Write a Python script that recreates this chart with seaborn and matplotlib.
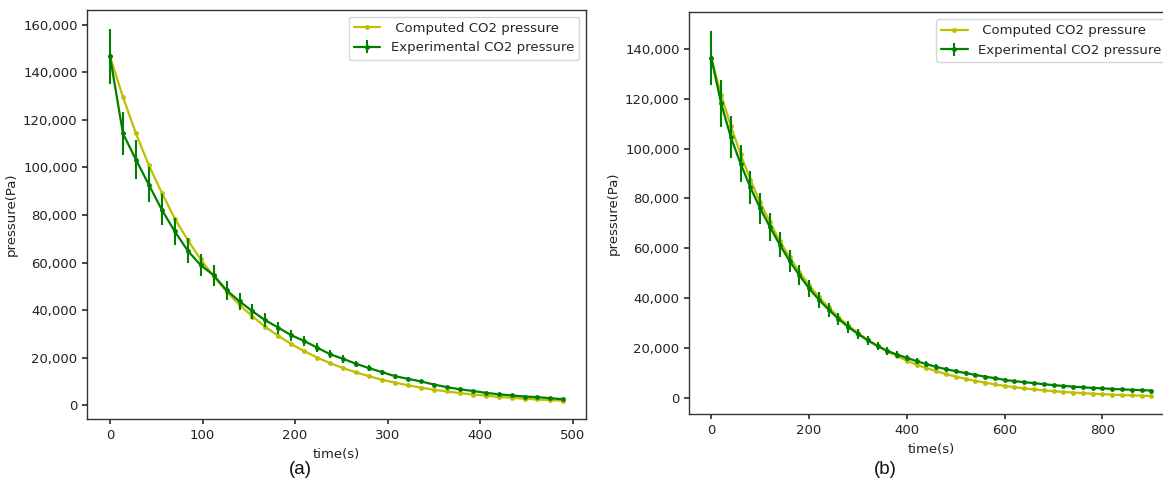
import numpy as np
import pandas as pd
import matplotlib
matplotlib.use("Agg")
import matplotlib.pyplot as plt
from matplotlib.ticker import FuncFormatter
import seaborn as sns

# ---------------- data (pressure in kPa, converted to Pa below) ----------------
time_a = [0, 14, 28, 42, 56, 70, 84, 98, 112, 126, 140, 154, 168, 182, 196, 210,
          224, 238, 252, 266, 280, 294, 308, 322, 336, 350, 364, 378, 392, 406,
          420, 434, 448, 462, 476, 490]
computed_a = [146.7, 129.6, 114.3, 100.9, 89.3, 78.5, 69.5, 61.3, 54.2, 47.8, 42.2,
              37.3, 32.9, 29.1, 25.7, 22.7, 20.0, 17.7, 15.6, 13.8, 12.2, 10.7, 9.5,
              8.4, 7.4, 6.5, 5.8, 5.1, 4.5, 4.0, 3.5, 3.1, 2.7, 2.4, 2.1, 1.9]
experimental_a = [146.7, 114.3, 103.3, 92.7, 82.2, 73.1, 65.0, 58.9, 54.7, 48.3, 43.7,
                  39.5, 35.7, 32.6, 29.4, 27.0, 24.2, 21.4, 19.5, 17.4, 15.6, 13.9,
                  12.2, 11.1, 10.0, 8.7, 7.6, 6.7, 6.0, 5.2, 4.6, 4.1, 3.65, 3.4,
                  2.95, 2.5]
error_a = [11.7, 9.1, 8.3, 7.4, 6.6, 5.8, 5.2, 4.7, 4.4, 3.9, 3.5, 3.2, 2.9, 2.6,
           2.4, 2.2, 1.9, 1.7, 1.6, 1.4, 1.2, 1.1, 1.0, 0.9, 0.8, 0.7, 0.6, 0.5,
           0.5, 0.4, 0.4, 0.3, 0.3, 0.3, 0.2, 0.2]

time_b = [0, 20, 40, 60, 80, 100, 120, 140, 160, 180, 200, 220, 240, 260, 280, 300,
          320, 340, 360, 380, 400, 420, 440, 460, 480, 500, 520, 540, 560, 580, 600,
          620, 640, 660, 680, 700, 720, 740, 760, 780, 800, 820, 840, 860, 880, 900]
computed_b = [136.3, 121.5, 109.0, 97.7, 87.5, 78.4, 70.5, 63.0, 56.5, 50.6, 45.3,
              40.6, 36.4, 32.6, 29.2, 26.2, 23.4, 21.0, 18.8, 16.9, 15.1, 13.5, 12.1,
              10.9, 9.7, 8.75, 7.8, 7.0, 6.3, 5.6, 5.0, 4.5, 4.0, 3.6, 3.25, 2.9,
              2.6, 2.35, 2.1, 1.9, 1.7, 1.5, 1.35, 1.2, 1.1, 0.95]
experimental_b = [136.3, 118.1, 104.5, 93.9, 84.4, 76.0, 68.6, 61.5, 55.0, 49.3, 44.0,
                  39.5, 35.5, 31.8, 28.6, 25.8, 23.2, 21.0, 19.0, 17.5, 16.2, 14.9,
                  13.7, 12.6, 11.7, 10.9, 10.1, 9.4, 8.7, 8.1, 7.4, 6.9, 6.5, 6.1,
                  5.7, 5.3, 5.0, 4.7, 4.45, 4.2, 4.0, 3.8, 3.6, 3.45, 3.3, 3.15]
error_b = [10.9, 9.4, 8.4, 7.5, 6.8, 6.1, 5.5, 4.9, 4.4, 3.9, 3.5, 3.2, 2.8, 2.5,
           2.3, 2.1, 1.9, 1.7, 1.5, 1.4, 1.3, 1.2, 1.1, 1.0, 0.9, 0.9, 0.8, 0.75,
           0.7, 0.65, 0.6, 0.55, 0.5, 0.5, 0.45, 0.4, 0.4, 0.4, 0.35, 0.35, 0.3,
           0.3, 0.3, 0.3, 0.25, 0.25]

label_computed = " Computed CO2 pressure"
label_experimental = "Experimental CO2 pressure"
x_label = "time(s)"
y_label = "pressure(Pa)"
captions = ["(a)", "(b)"]

# ---------------- style ----------------
sns.set_theme(style="ticks", rc={
    "axes.edgecolor": "#333333",
    "axes.linewidth": 1.0,
    "xtick.color": "#333333",
    "ytick.color": "#333333",
    "xtick.labelcolor": "#222222",
    "ytick.labelcolor": "#222222",
    "xtick.major.size": 3.5,
    "ytick.major.size": 3.5,
    "font.size": 9.5,
    "axes.labelsize": 9.5,
    "xtick.labelsize": 9.5,
    "ytick.labelsize": 9.5,
    "legend.fontsize": 9.5,
    "axes.labelcolor": "#222222",
})
plt.rcParams["font.family"] = ["DejaVu Sans"]

YELLOW = "#bfbf00"
GREEN = "#008000"

fig = plt.figure(figsize=(11.63, 4.90), dpi=100)
ax_a = fig.add_axes([0.0751, 0.1443, 0.4288, 0.8353])
ax_b = fig.add_axes([0.5927, 0.1545, 0.4162, 0.8204])

panels = [
    (ax_a, time_a, computed_a, experimental_a, error_a),
    (ax_b, time_b, computed_b, experimental_b, error_b),
]

for ax, t, comp, expv, err in panels:
    df = pd.DataFrame({
        "time": t,
        "computed": np.array(comp) * 1000.0,
        "experimental": np.array(expv) * 1000.0,
        "err": np.array(err) * 1000.0,
    })
    sns.lineplot(data=df, x="time", y="computed", ax=ax, color=YELLOW,
                 marker="o", markersize=3.5, markeredgewidth=0, linewidth=1.6,
                 label=label_computed, zorder=2)
    ax.errorbar(df["time"], df["experimental"], yerr=df["err"], color=GREEN,
                marker="o", markersize=3.5, markeredgewidth=0, linewidth=1.6,
                elinewidth=1.5, capsize=0, label=label_experimental, zorder=3)
    ax.set_xlabel(x_label)
    ax.set_ylabel(y_label)
    ax.yaxis.set_major_formatter(FuncFormatter(lambda v, p: f"{v:,.0f}"))
    ax.margins(x=0.05, y=0.05)
    for s in ax.spines.values():
        s.set_visible(True)
    leg = ax.legend(loc="upper right", frameon=True, fancybox=True,
                    framealpha=0.8, edgecolor="#cccccc")

fig.text(0.258, 0.025, captions[0], ha="center", va="bottom",
         fontsize=13.5, family=["Liberation Sans", "DejaVu Sans"], color="#111111")
fig.text(0.761, 0.025, captions[1], ha="center", va="bottom",
         fontsize=13.5, family=["Liberation Sans", "DejaVu Sans"], color="#111111")

fig.savefig("out.png", dpi=100)
